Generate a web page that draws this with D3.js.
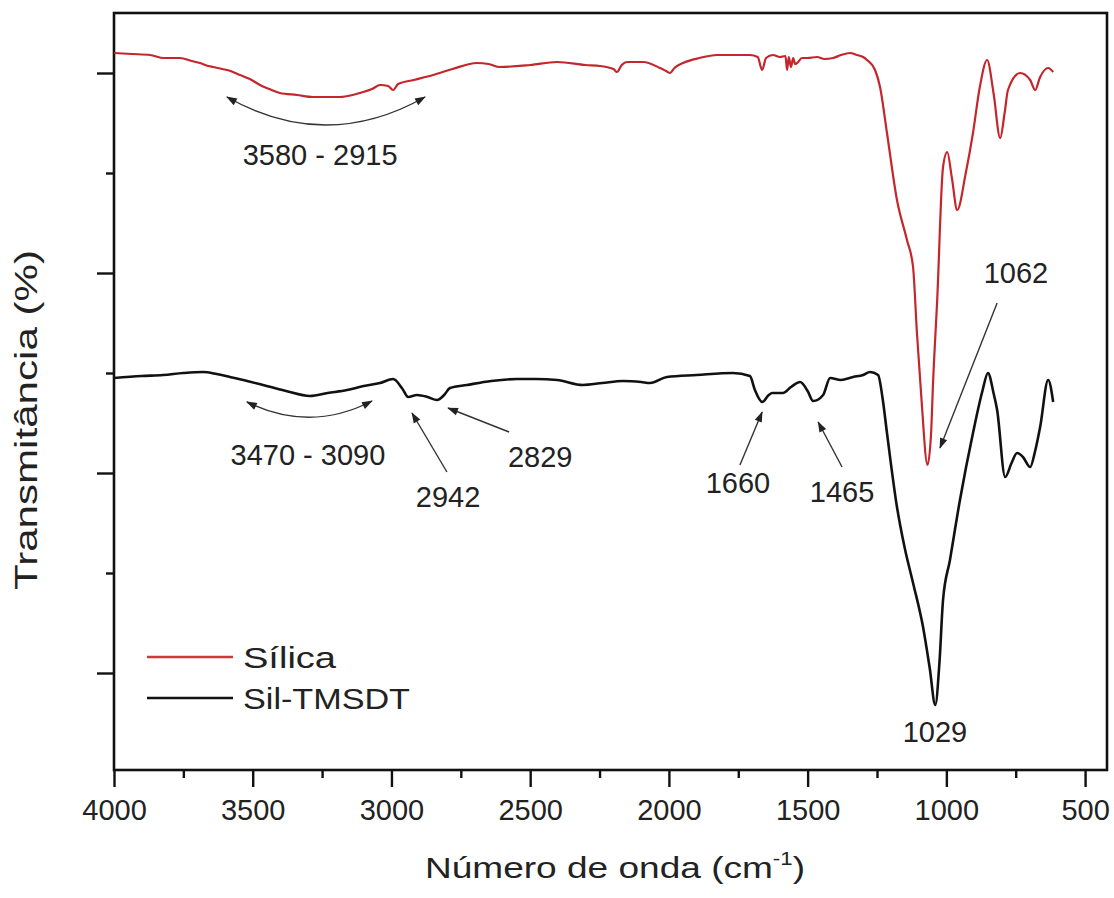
<!DOCTYPE html>
<html><head><meta charset="utf-8">
<script src="https://cdn.jsdelivr.net/npm/d3@7"></script>
<style>body{margin:0;background:#fff}svg{display:block}</style>
</head><body><svg id="c" width="1114" height="898"></svg>
<script>
// ---- data ----
const seriesNames = ["Sílica", "Sil-TMSDT"];
const silicaWn = [4000,3935,3870,3820,3762,3720,3690,3660,3643,3610,3580,3546,3510,3474,3440,3402,3340,3283,3230,3185,3140,3102,3070,3041,3012,2994,2976,2920,2850,2780,2692,2650,2609,2500,2403,2300,2248,2200,2187,2170,2151,2093,2032,2010,1996,1980,1949,1890,1827,1760,1708,1680,1664,1650,1625,1600,1580,1574,1568,1560,1552,1545,1538,1520,1500,1466,1440,1408,1380,1347,1322,1300,1286,1257,1239,1214,1178,1142,1120,1106,1090,1068,1055,1048,1033,1012,997,980,961,930,904,880,853,830,806,790,778,734,698,680,662,633,615];
const silicaT  = [72.0,71.9,71.8,71.5,71.5,71.2,71.0,70.7,70.6,70.4,70.2,69.8,69.4,68.8,68.4,68.0,67.8,67.6,67.6,67.6,67.8,68.1,68.4,68.8,68.7,68.3,68.9,69.3,69.8,70.4,71.0,70.9,70.6,70.8,71.1,70.8,70.7,70.4,70.1,70.8,71.1,71.1,70.5,70.2,70.0,70.5,71.0,71.5,71.8,71.8,71.8,71.6,70.3,71.5,71.8,71.6,71.7,70.3,71.6,70.6,71.5,70.9,71.0,71.5,71.5,71.6,71.4,71.5,71.8,72.0,71.8,71.6,71.3,70.3,68.6,64.0,57.3,53.3,50.6,44.0,37.5,30.8,34.0,39.0,47.3,60.6,62.1,59.5,56.3,60.0,64.0,68.5,71.3,68.0,63.5,66.0,68.3,70.0,69.3,68.3,69.6,70.5,70.1];
const tmsdtWn = [4000,3900,3823,3750,3679,3630,3582,3520,3463,3380,3294,3230,3160,3100,3041,2994,2960,2940,2908,2870,2836,2810,2789,2728,2640,2547,2480,2403,2310,2240,2165,2100,2068,2007,1900,1769,1708,1690,1664,1640,1628,1589,1560,1527,1500,1480,1444,1419,1380,1336,1300,1275,1246,1230,1214,1178,1150,1120,1084,1060,1040,1025,1012,987,951,904,870,850,830,817,788,765,745,724,698,680,662,633,615];
const tmsdtT  = [39.5,39.7,39.8,40.0,40.1,39.9,39.6,39.2,38.8,38.2,37.7,38.0,38.3,38.7,39.0,39.4,38.4,37.6,37.8,37.6,37.3,37.8,38.5,38.8,39.2,39.4,39.4,39.3,38.8,39.0,39.2,39.1,39.0,39.6,39.8,40.0,39.7,38.3,37.1,37.8,38.0,38.0,38.6,39.1,38.2,37.2,37.8,39.5,39.3,39.6,39.8,40.1,39.8,37.5,34.0,26.6,22.5,19.0,14.6,10.5,6.8,11.0,17.3,21.3,27.3,34.0,38.2,40.0,38.0,36.3,29.6,31.0,32.0,31.6,30.6,32.2,34.6,39.3,37.1];
const xTickValues = [4000,3500,3000,2500,2000,1500,1000,500];
const xMinorValues = [3750,3250,2750,2250,1750,1250,750];
const yMajorValues = [10,30,50,70];
const yMinorValues = [20,40,60];
// annotations (data units)
const labelText = ["3580 - 2915","3470 - 3090","2942","2829","1660","1465","1029","1062"];
const labelWn   = [3257,3301,2796,2464,1751,1376,1041,749];
const labelT    = [60.8,30.8,26.6,30.6,28.0,27.1,3.1,49.0];
const arrowFromWn = [2800,2576,1744,1376,817];
const arrowFromT  = [30.1,34.1,30.8,30.6,47.0];
const arrowToWn   = [2926,2796,1664,1462,1023];
const arrowToT    = [36.0,36.5,36.1,35.1,32.5];
const bendStartWn = [3593,3521];
const bendStartT  = [67.6,37.1];
const bendCtrlWn  = [3236,3294];
const bendCtrlT   = [62.0,34.0];
const bendEndWn   = [2879,3070];
const bendEndT    = [67.6,37.2];

// ---- layout ----
const W = 1114, H = 898;
const L = 114, T = 13, R = 1107, B = 770;
const FONT = "'Liberation Sans', Arial, sans-serif";
const svg = d3.select("#c");
const x = d3.scaleLinear().domain([4000, 421]).range([L, R]);
const y = d3.scaleLinear().domain([0.3, 76]).range([B, T]);

const colors = ["#c4262c", "#111111"];

// axes
const gx = svg.append("g").attr("transform", `translate(0,${B})`)
  .call(d3.axisBottom(x).tickValues(xTickValues).tickSize(17).tickPadding(12).tickFormat(d3.format("d")));
const gxm = svg.append("g").attr("transform", `translate(0,${B})`)
  .call(d3.axisBottom(x).tickValues(xMinorValues).tickSize(8).tickFormat(""));
const gy = svg.append("g").attr("transform", `translate(${L},0)`)
  .call(d3.axisLeft(y).tickValues(yMajorValues).tickSize(17).tickFormat(""));
const gym = svg.append("g").attr("transform", `translate(${L},0)`)
  .call(d3.axisLeft(y).tickValues(yMinorValues).tickSize(8).tickFormat(""));
[gx,gxm,gy,gym].forEach(g => {
  g.select(".domain").remove();
  g.selectAll(".tick line").attr("stroke", "#111").attr("stroke-width", 2.4);
  g.selectAll(".tick text").attr("font-family", FONT).attr("font-size", 29).attr("fill", "#222");
});

// frame
svg.append("rect").attr("x", L).attr("y", T).attr("width", R - L).attr("height", B - T)
  .attr("fill", "none").attr("stroke", "#111").attr("stroke-width", 2.6);

// lines
const line = d3.line().curve(d3.curveMonotoneX);
const clip = svg.append("clipPath").attr("id","clp").append("rect")
  .attr("x", L).attr("y", T).attr("width", R-L).attr("height", B-T);
const seriesData = [
  silicaWn.map((w,i)=>[x(w), y(silicaT[i])]),
  tmsdtWn.map((w,i)=>[x(w), y(tmsdtT[i])])
];
seriesData.forEach((pts, i) => {
  svg.append("path").attr("d", line(pts)).attr("fill","none")
    .attr("stroke", colors[i]).attr("stroke-width", i === 0 ? 2.2 : 2.6)
    .attr("stroke-linejoin","round").attr("clip-path","url(#clp)");
});

// arrow marker
const defs = svg.append("defs");
defs.append("marker").attr("id","ah").attr("viewBox","0 -5 12 10")
  .attr("refX", 11).attr("refY", 0).attr("markerWidth", 12).attr("markerHeight", 9)
  .attr("markerUnits","userSpaceOnUse").attr("orient","auto-start-reverse")
  .append("path").attr("d","M0,-4.2L12,0L0,4.2Z").attr("fill","#222");

// straight arrows
arrowFromWn.forEach((w,i) => {
  svg.append("line").attr("x1", x(w)).attr("y1", y(arrowFromT[i]))
    .attr("x2", x(arrowToWn[i])).attr("y2", y(arrowToT[i]))
    .attr("stroke","#333").attr("stroke-width",1.4).attr("marker-end","url(#ah)");
});
// bent double arrows
bendStartWn.forEach((w,i) => {
  const p = d3.path();
  p.moveTo(x(w), y(bendStartT[i]));
  p.quadraticCurveTo(x(bendCtrlWn[i]), y(bendCtrlT[i]), x(bendEndWn[i]), y(bendEndT[i]));
  svg.append("path").attr("d", p.toString()).attr("fill","none")
    .attr("stroke","#333").attr("stroke-width",1.4)
    .attr("marker-start","url(#ah)").attr("marker-end","url(#ah)");
});

// labels
labelText.forEach((t,i) => {
  svg.append("text").attr("x", x(labelWn[i])).attr("y", y(labelT[i]))
    .attr("text-anchor","middle").attr("font-family",FONT).attr("font-size",29)
    .attr("fill","#222").text(t);
});

// legend
const lg = svg.append("g").attr("transform", `translate(${L+33},657)`);
seriesNames.forEach((n,i) => {
  lg.append("line").attr("x1",0).attr("x2",86).attr("y1",i*41).attr("y2",i*41)
    .attr("stroke", i===0 ? "#d0383c" : "#111").attr("stroke-width",2.4);
  lg.append("text").attr("x",96).attr("y",i*41+11).attr("font-family",FONT)
    .attr("font-size",30).attr("fill","#222")
    .attr("textLength", i===0 ? 93 : 167).attr("lengthAdjust","spacingAndGlyphs").text(n);
});

// axis titles
const xt = svg.append("text").attr("x", 615).attr("y", 878).attr("text-anchor","middle")
  .attr("font-family",FONT).attr("font-size",30).attr("fill","#222")
  .attr("textLength",380).attr("lengthAdjust","spacingAndGlyphs");
xt.append("tspan").text("Número de onda (cm");
xt.append("tspan").attr("dy",-13).attr("font-size",18).text("-1");
xt.append("tspan").attr("dy",13).text(")");

svg.append("text").attr("transform","translate(37,420) rotate(-90)").attr("text-anchor","middle")
  .attr("font-family",FONT).attr("font-size",31).attr("fill","#222")
  .attr("textLength",340).attr("lengthAdjust","spacingAndGlyphs")
  .text("Transmitância (%)");
</script></body></html>
